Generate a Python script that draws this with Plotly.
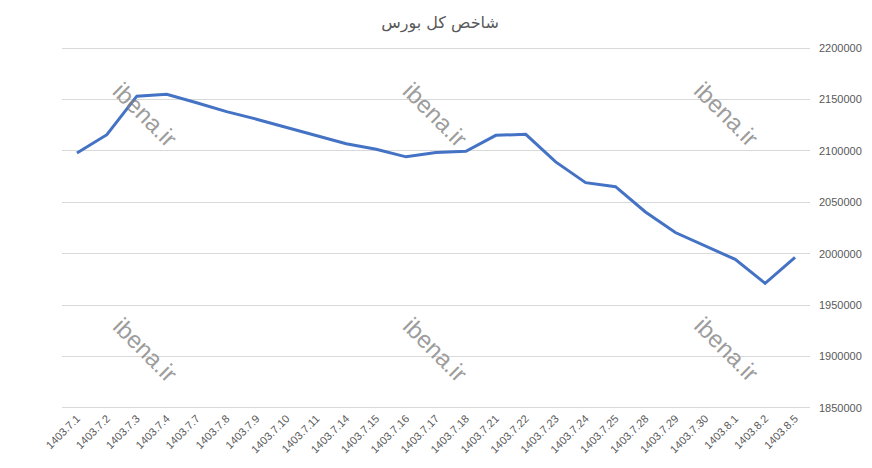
import plotly.graph_objects as go

categories = ["1403.7.1", "1403.7.2", "1403.7.3", "1403.7.4", "1403.7.7", "1403.7.8",
              "1403.7.9", "1403.7.10", "1403.7.11", "1403.7.14", "1403.7.15", "1403.7.16",
              "1403.7.17", "1403.7.18", "1403.7.21", "1403.7.22", "1403.7.23", "1403.7.24",
              "1403.7.25", "1403.7.28", "1403.7.29", "1403.7.30", "1403.8.1", "1403.8.2",
              "1403.8.5"]
index_values = [2098000, 2115700, 2153200, 2155100, 2146800, 2138200,
                2130800, 2123000, 2114900, 2107000, 2101600, 2094200,
                2098300, 2099600, 2115100, 2116100, 2089300, 2069100,
                2065200, 2040600, 2020600, 2007500, 1994500, 1971200,
                1996400]
y_ticks = [1850000, 1900000, 1950000, 2000000, 2050000, 2100000, 2150000, 2200000]
title_text = "شاخص کل بورس"
watermark = "ibena.ir"

fig = go.Figure()
fig.add_trace(go.Scatter(
    x=categories, y=index_values, mode="lines",
    line=dict(color="#4472C4", width=3),
    hoverinfo="skip", showlegend=False,
))

# watermarks
for xp in [0.111, 0.499, 0.889]:
    for yp in [0.814, 0.164]:
        fig.add_annotation(
            x=xp, y=yp, xref="paper", yref="paper", text=watermark,
            xanchor="center", yanchor="middle",
            showarrow=False, textangle=45,
            font=dict(family="Liberation Sans, Arial", size=24, color="rgba(130,130,130,0.8)"),
        )

# page body has an 8px default margin, so the figure is sized to fit the window
fig.update_layout(
    width=864, height=462,
    margin=dict(l=54, r=62, t=39, b=61, autoexpand=False),
    paper_bgcolor="white", plot_bgcolor="white",
    title=dict(text=title_text, x=0.5, xanchor="center", y=1 - 14 / 462, yanchor="middle",
               automargin=False,
               font=dict(family="DejaVu Sans", size=16, color="#595959")),
    xaxis=dict(type="category", range=[-0.5, len(categories) - 0.5], automargin=False,
               showgrid=False, showline=False, zeroline=False, ticks="",
               tickangle=-45, tickfont=dict(family="Liberation Sans, Arial", size=11, color="#595959")),
    yaxis=dict(side="right", range=[1849000, 2201000], tickvals=y_ticks, automargin=False,
               ticktext=[str(v) for v in y_ticks],
               showgrid=True, gridcolor="#D9D9D9", gridwidth=1, zeroline=False, showline=False,
               ticks="", ticklabelstandoff=8,
               tickfont=dict(family="Liberation Sans, Arial", size=11, color="#595959")),
)

fig.write_html("out.html")
